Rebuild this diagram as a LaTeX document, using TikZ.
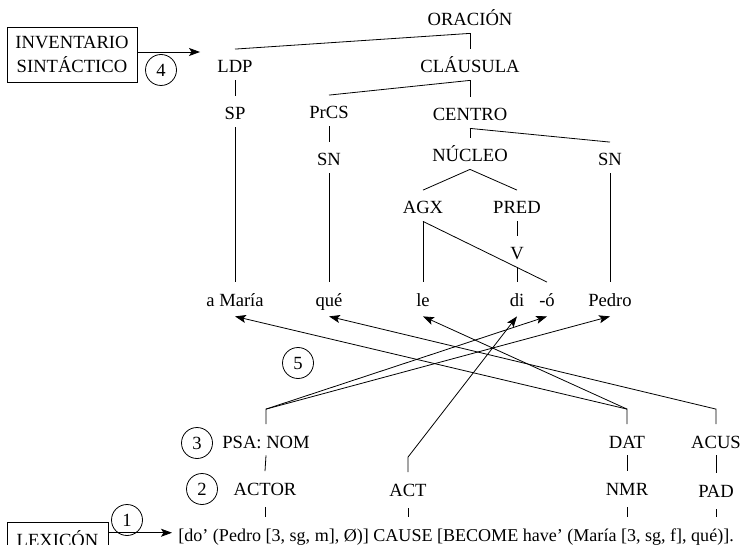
\documentclass[tikz,border=0pt]{standalone}
\usepackage{fontspec}
\setmainfont{Liberation Serif}
\usetikzlibrary{arrows.meta}
\begin{document}
\begin{tikzpicture}[x=1pt,y=-1pt, line width=0.8pt,
  font=\fontsize{18.6}{24}\selectfont,
  lbl/.style={inner xsep=0pt, inner ysep=0pt, text height=23.5pt, text depth=7pt, anchor=base},
  num/.style={circle, draw, minimum size=31pt, inner sep=0pt},
  arr/.style={-{Stealth[length=11pt,width=8pt,inset=2.5pt]}},
  boxn/.style={draw, align=center, inner sep=0pt}]
\useasboundingbox (0,0) rectangle (741,545);
\clip (0,0) rectangle (741,545);
% tree nodes
\node[lbl] (ora) at (470,26) {ORACIÓN};
\node[lbl] (cla) at (470,73) {CLÁUSULA};
\node[lbl] (ldp) at (235,73) {LDP};
\node[lbl] (sp) at (235,120) {SP};
\node[lbl] (prcs) at (329,119) {PrCS};
\node[lbl] (cen) at (470,121) {CENTRO};
\node[lbl] (nuc) at (470,162) {NÚCLEO};
\node[lbl] (sna) at (329,166) {SN};
\node[lbl] (snb) at (610,166) {SN};
\node[lbl] (agx) at (423,214) {AGX};
\node[lbl] (pred) at (517,214) {PRED};
\node[lbl] (v) at (517,260) {V};
\node[lbl] (mar) at (235,306) {a María};
\node[lbl] (que) at (329,306) {qué};
\node[lbl] (le) at (423,306) {le};
\node[lbl] (di) at (517,306) {di};
\node[lbl] (o) at (547,306) {-ó};
\node[lbl] (ped) at (610,306) {Pedro};
% lower nodes
\node[lbl] (psa) at (266,448) {PSA: NOM};
\node[lbl] (dat) at (627,448) {DAT};
\node[lbl] (acus) at (716,448) {ACUS};
\node[lbl] (actor) at (265,495) {ACTOR};
\node[lbl] (act) at (408,496) {ACT};
\node[lbl] (nmr) at (627,495) {NMR};
\node[lbl] (pad) at (716,497) {PAD};
\node[lbl, anchor=base west, font=\fontsize{18.05}{24}\selectfont] (form) at (178,541) {[do’ (Pedro [3, sg, m], Ø)] CAUSE [BECOME have’ (María [3, sg, f], qué)].};
% circles
\node[num] (c1) at (127,520) {1};
\node[num] (c2) at (202,489) {2};
\node[num] (c3) at (197,443) {3};
\node[num] (c4) at (161,70) {4};
\node[num] (c5) at (298,363) {5};
% boxes
\node[boxn, minimum width=130pt, minimum height=55pt] (inv) at (72,54.5) {INVENTARIO\\SINTÁCTICO};
\node[boxn, minimum width=101pt, minimum height=34pt] (lex) at (57.5,539) {LEXICÓN};
% tree lines
\draw (ora.south) -- (cla.north);
\draw (ora.south) -- (ldp.north);
\draw (cla.south) -- (cen.north);
\draw (cla.south) -- (prcs.north);
\draw (ldp.south) -- (sp.north);
\draw (sp.south) -- (mar.north);
\draw (prcs.south) -- (sna.north);
\draw (sna.south) -- (que.north);
\draw (cen.south) -- (nuc.north);
\draw (cen.south) -- (snb.north);
\draw (snb.south) -- (ped.north);
\draw (nuc.south) -- (agx.north);
\draw (nuc.south) -- (pred.north);
\draw (agx.south) -- (le.north);
\draw (agx.south) -- (o.north);
\draw (pred.south) -- (v.north);
\draw (v.south) -- (di.north);
% lower ticks
\draw (psa.south) -- (actor.north);
\draw (dat.south) -- (nmr.north);
\draw (acus.south) -- (pad.north);
\draw[shorten <=5pt] (actor.south) -- (actor.south |- form.north);
\draw[shorten <=5pt] (act.south) -- (act.south |- form.north);
\draw[shorten <=5pt] (nmr.south) -- (nmr.south |- form.north);
\draw[shorten <=5pt] (pad.south) -- (pad.south |- form.north);
% linking arrows
\draw[arr] (psa.north) -- ([yshift=15pt]psa.north) -- ([yshift=-3pt]o.south);
\draw[arr] ([yshift=15pt]psa.north) -- ([yshift=-3pt]ped.south);
\draw[arr] (dat.north) -- ([yshift=15pt]dat.north) -- ([yshift=-3pt]mar.south);
\draw[arr] ([yshift=15pt]dat.north) -- ([yshift=-3pt]le.south);
\draw[arr] (acus.north) -- ([yshift=15pt]acus.north) -- ([yshift=-3pt]que.south);
\draw[arr] (act.north) -- ([yshift=15pt]act.north) -- ([yshift=-3pt]di.south);
% input arrows
\draw[arr, shorten >=17pt] ([yshift=2.5pt]inv.east) -- ([yshift=2.5pt]inv.east -| ldp.west);
\draw[arr, shorten >=6pt] (lex.east |- form.west) -- (form.west);
\end{tikzpicture}
\end{document}
